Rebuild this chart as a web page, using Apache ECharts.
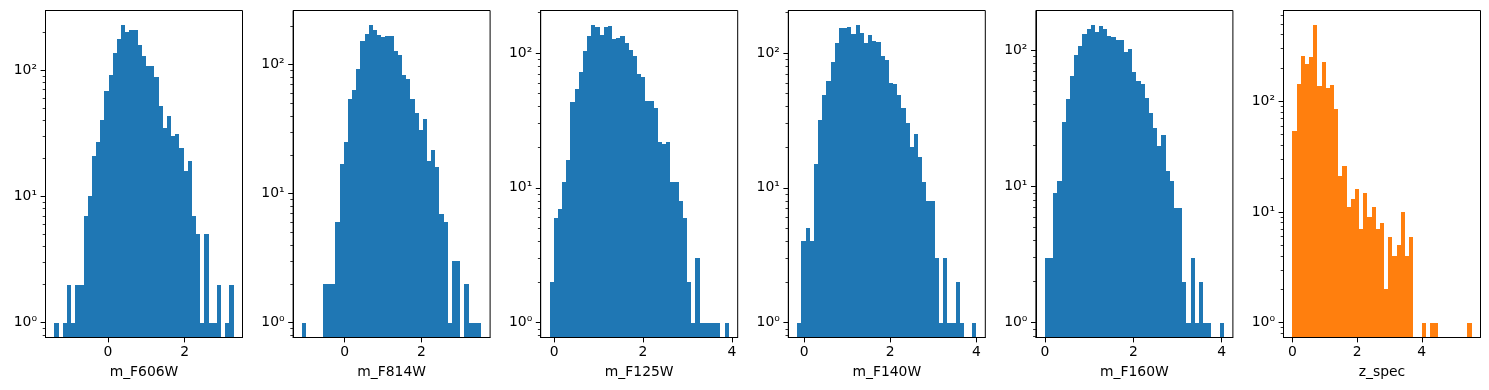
<!DOCTYPE html>
<html><head><meta charset="utf-8">
<script src="https://cdn.jsdelivr.net/npm/echarts@6/dist/echarts.min.js"></script>
<style>html,body{margin:0;padding:0;background:#fff}#c{width:1489px;height:390px}</style>
</head><body><div id="c"></div>
<script>
// ---- data ----
const panelNames = ['m_F606W', 'm_F814W', 'm_F125W', 'm_F140W', 'm_F160W', 'z_spec'];
const binMin = [-1.40, -1.11, -0.10, -0.16, 0.00, 0.00];
const binMax = [3.28, 3.56, 3.93, 4.00, 4.05, 5.54];
const counts_m_F606W = [1,0,1,2,1,2,2,7,10,21,27,40,68,92,137,175,226,200,208,208,158,129,108,108,88,52,35,43,30,31,24,16,19,7,5,1,5,1,1,2,0,1,2];
const counts_m_F814W = [1,0,0,0,0,2,2,2,6,17,25,54,64,92,154,174,202,185,170,163,167,167,128,118,84,77,54,42,31,38,18,22,16,7,6,1,3,3,0,2,1,1,1];
const counts_m_F125W = [2,6,7,11,16,43,54,72,103,133,160,155,136,156,157,126,128,133,119,105,95,70,66,44,44,39,22,21,22,11,11,8,6,2,1,3,1,1,1,1,1,0,1];
const counts_m_F140W = [1,4,5,4,15,32,49,62,85,118,152,152,156,138,160,140,118,136,123,120,95,88,60,59,49,39,30,20,25,17,11,8,8,3,1,3,1,1,2,1,0,0,1];
const counts_m_F160W = [3,3,9,11,30,44,65,92,107,133,145,153,136,151,145,127,125,119,120,98,103,70,60,57,45,35,27,20,24,13,11,7,7,2,1,3,1,2,1,1,0,0,1];
const counts_z_spec  = [54,142,255,216,250,486,137,227,131,140,86,21,26,11,13,16,7,15,9,11,7,8,2,6,4,5,10,4,6,0,0,1,0,1,1,0,0,0,0,0,0,0,1];
const xTickLabels = [[0,2],[0,2],[0,2,4],[0,2,4],[0,2,4],[0,2,4]];
const yTickLabels = [1, 10, 100];
const barColors = ['#1f77b4','#1f77b4','#1f77b4','#1f77b4','#1f77b4','#ff7f0e'];

const allCounts = [counts_m_F606W, counts_m_F814W, counts_m_F125W, counts_m_F140W, counts_m_F160W, counts_z_spec];

// ---- layout ----
const gridLeft = [45.5, 293.1, 540.7, 788.3, 1035.9, 1283.5];
const gridTop = 10.5, gridW = 197, gridH = 327;
const FONT = 'DejaVu Sans', FS = 13.9;
const SUP = {'0':'\u2070','1':'\u00b9','2':'\u00b2','3':'\u00b3'};

const chart = echarts.init(document.getElementById('c'), null, {renderer: 'canvas'});
const grids = [], xAxes = [], yAxes = [], series = [];

allCounts.forEach((c, i) => {
  const lo = binMin[i], hi = binMax[i], r = hi - lo, n = c.length, w = r / n;
  const L = Math.log10(Math.max.apply(null, c));
  const ymin = -0.05 * L, ymax = 1.05 * L;
  const minors = [];
  for (let d = -1; d <= 3; d++) for (let k = 2; k <= 9; k++) {
    const v = Math.log10(k * Math.pow(10, d));
    if (v > ymin && v < ymax) minors.push(v);
  }
  const majors = yTickLabels.map(v => Math.log10(v)).filter(v => v >= ymin && v <= ymax);
  const data = c.map((cnt, j) => [lo + j * w, lo + (j + 1) * w, cnt > 0 ? Math.log10(cnt) : ymin, cnt]);

  grids.push({left: gridLeft[i], top: gridTop, width: gridW, height: gridH, show: true,
    borderColor: '#000', borderWidth: 1, backgroundColor: 'transparent'});
  xAxes.push({gridIndex: i, type: 'value', min: lo - 0.05 * r, max: hi + 0.05 * r, z: 5,
    axisLine: {show: true, onZero: false, lineStyle: {color: '#000', width: 1}},
    axisTick: {show: true, length: 4.9, lineStyle: {color: '#000', width: 1}, customValues: xTickLabels[i]},
    axisLabel: {customValues: xTickLabels[i], color: '#000', fontSize: FS, fontFamily: FONT, margin: 8,
      formatter: v => String(v)},
    splitLine: {show: false},
    name: panelNames[i], nameLocation: 'middle', nameGap: 28,
    nameTextStyle: {color: '#000', fontSize: FS, fontFamily: FONT}});
  yAxes.push({gridIndex: i, type: 'value', position: 'left', min: ymin, max: ymax, z: 5,
    axisLine: {show: true, onZero: false, lineStyle: {color: '#000', width: 1}},
    axisTick: {show: true, length: 4.9, lineStyle: {color: '#000', width: 1}, customValues: majors},
    axisLabel: {customValues: majors, color: '#000', fontSize: FS, fontFamily: FONT, margin: 8.5,
      formatter: v => '10' + SUP[String(Math.round(v))]},
    splitLine: {show: false}});
  yAxes.push({gridIndex: i, type: 'value', position: 'left', min: ymin, max: ymax, z: 5,
    axisLine: {show: false, onZero: false},
    axisTick: {show: true, length: 2.8, lineStyle: {color: '#000', width: 0.8}, customValues: minors},
    axisLabel: {show: false}, splitLine: {show: false}});
  const color = barColors[i];
  series.push({type: 'custom', xAxisIndex: i, yAxisIndex: 2 * i, z: 2, silent: true, clip: true,
    data: data,
    renderItem: function (params, api) {
      if (api.value(3) <= 0) return null;
      const p0 = api.coord([api.value(0), api.value(2)]);
      const p1 = api.coord([api.value(1), ymin]);
      const x0 = Math.round(p0[0]), x1 = Math.round(p1[0]);
      const y0 = Math.round(p0[1]);
      return {type: 'rect', shape: {x: x0, y: y0, width: x1 - x0, height: p1[1] - y0},
        style: {fill: color}};
    }});
});

chart.setOption({animation: false, backgroundColor: '#fff', grid: grids, xAxis: xAxes, yAxis: yAxes, series: series});
</script></body></html>
